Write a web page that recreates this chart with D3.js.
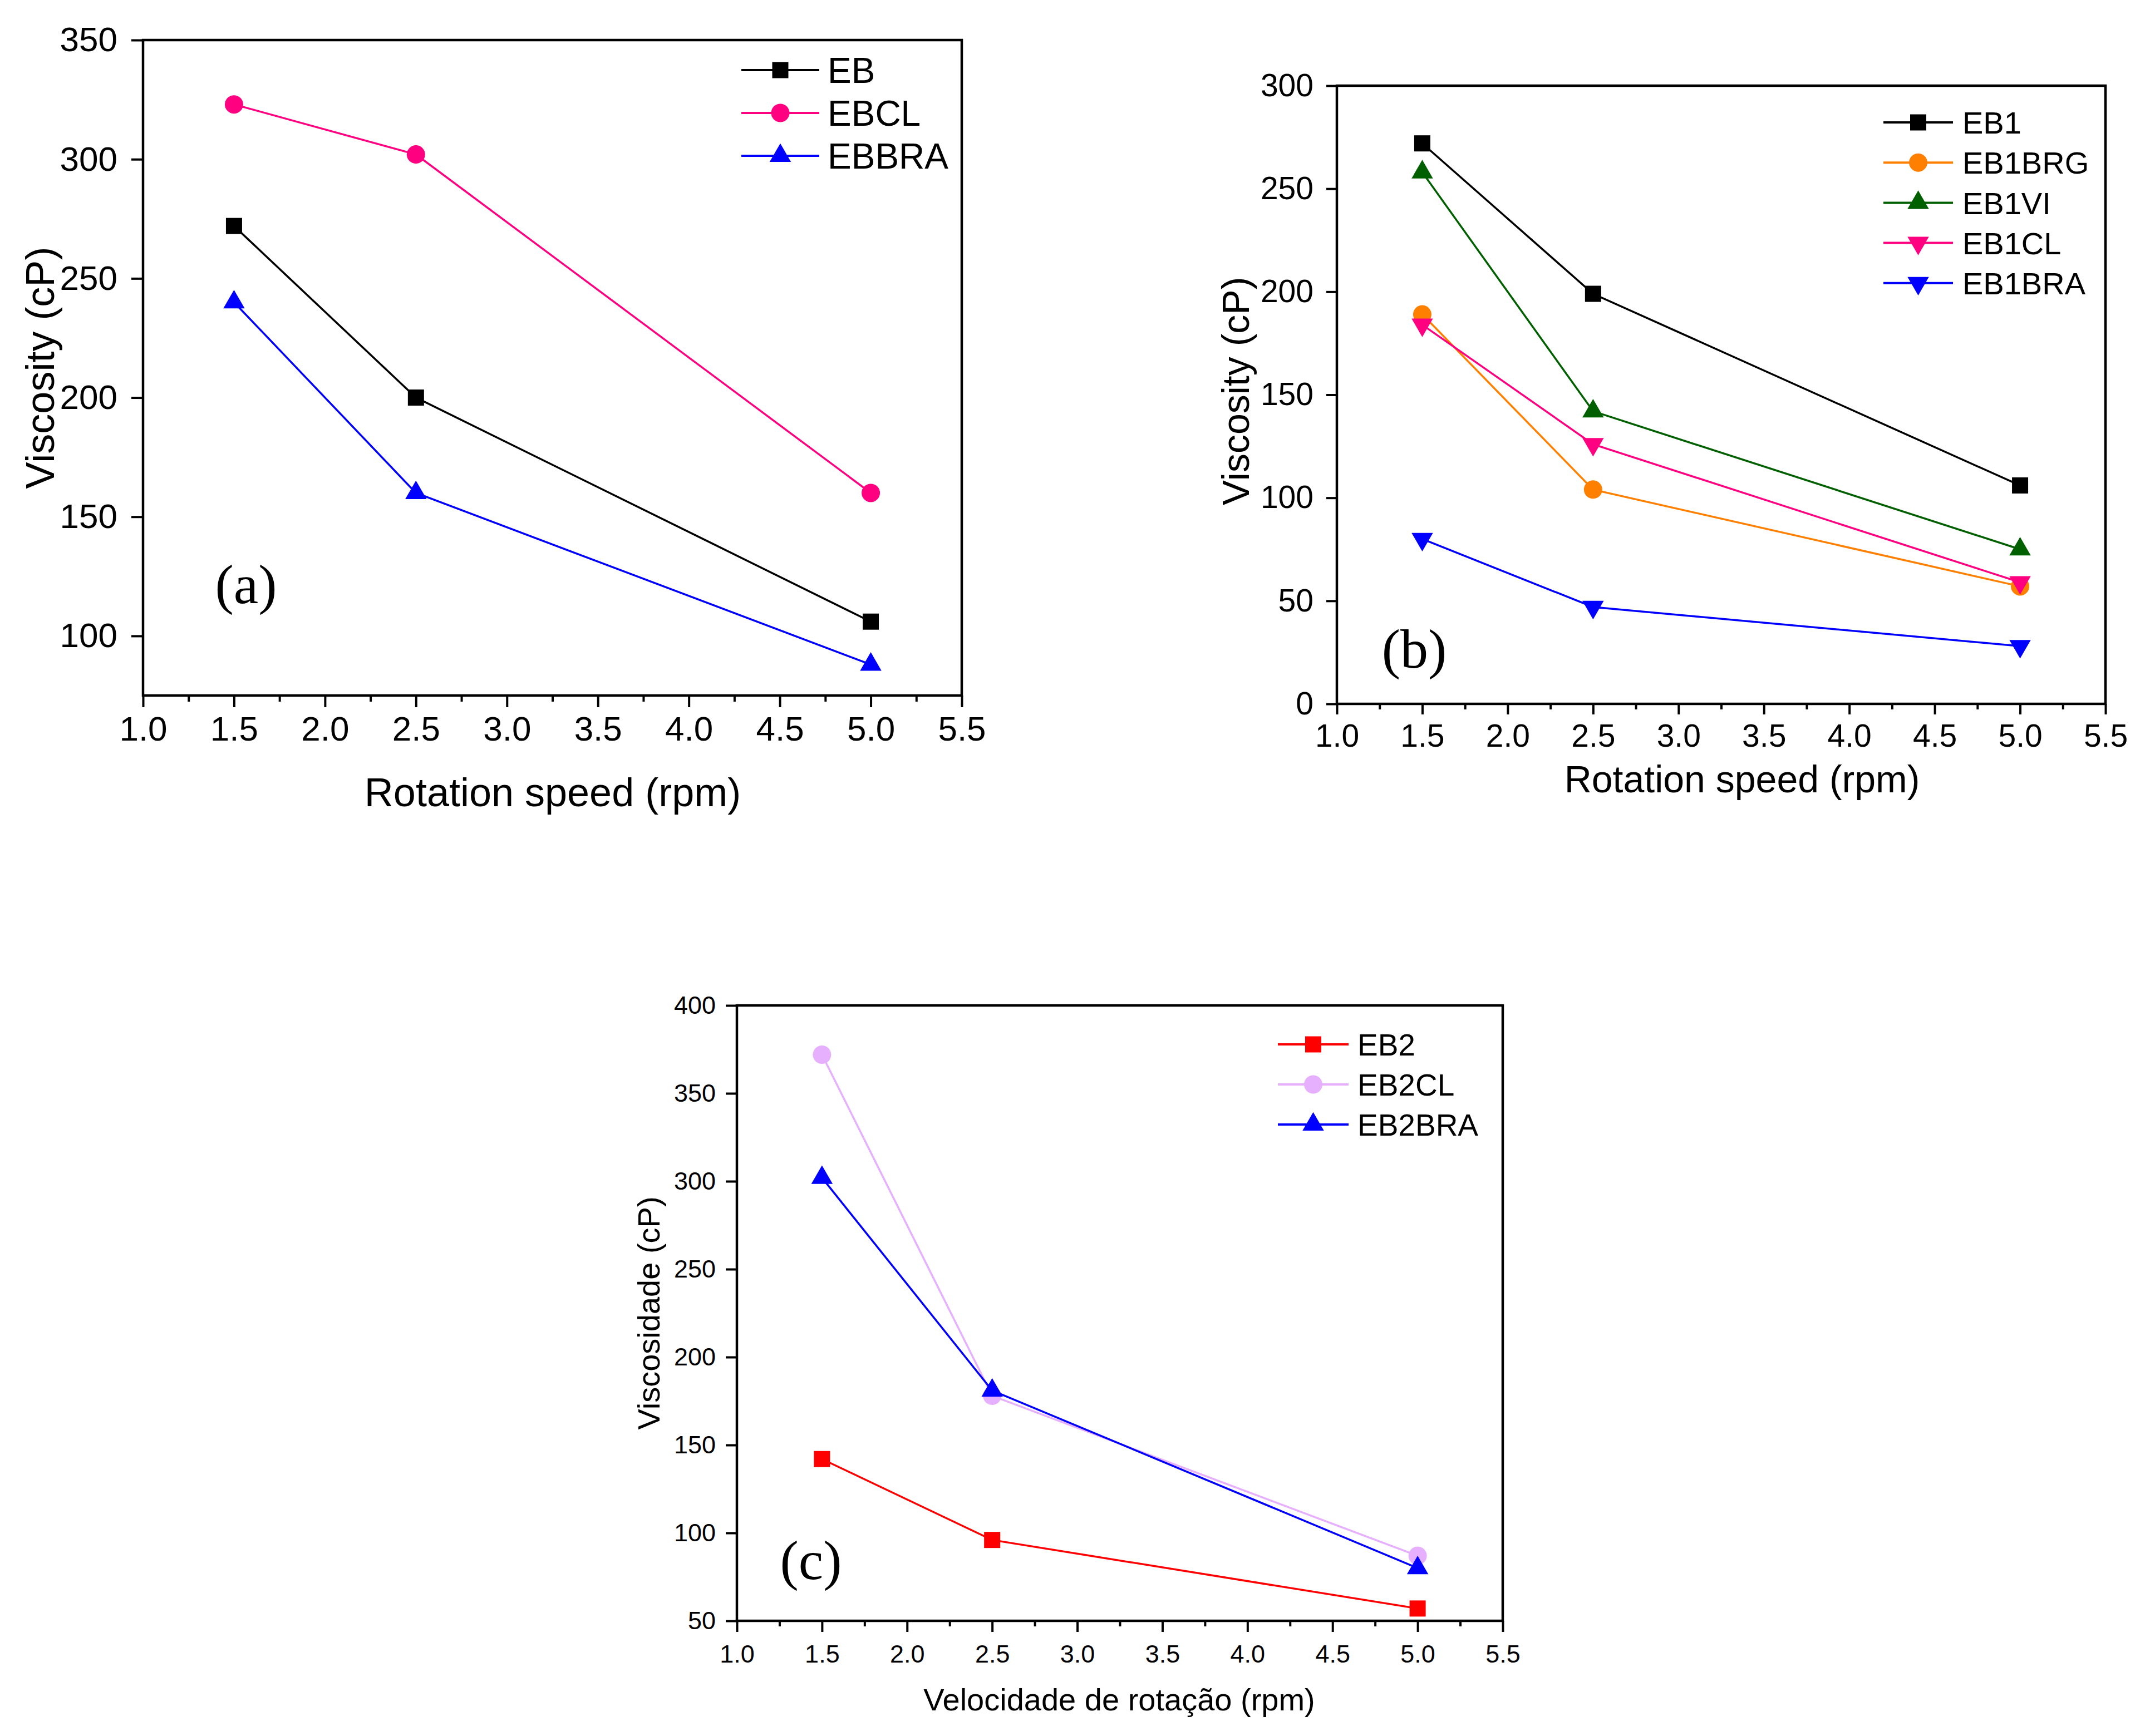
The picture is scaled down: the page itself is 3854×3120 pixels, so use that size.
<!DOCTYPE html>
<html>
<head>
<meta charset="utf-8">
<script src="https://cdn.jsdelivr.net/npm/d3@7"></script>
<style>
  body { margin: 0; background: #fff; }
  svg { display: block; background: #fff; }
  text { font-family: "Liberation Sans", Arial, sans-serif; fill: #000; }
</style>
</head>
<body>
<svg id="fig" width="3854" height="3120"></svg>
<script>
// shared x values and ticks
const speeds = [1.5, 2.5, 5.0];
const xTickValues = [1.0, 1.5, 2.0, 2.5, 3.0, 3.5, 4.0, 4.5, 5.0, 5.5];
const xMinorValues = [1.25, 1.75, 2.25, 2.75, 3.25, 3.75, 4.25, 4.75, 5.25];

// panel (a)
const namesA = ["EB", "EBCL", "EBBRA"];
const ebA = [272, 200, 106];
const ebclA = [323, 302, 160];
const ebbraA = [240, 160, 88];
const yTicksA = [100, 150, 200, 250, 300, 350];

// panel (b)
const namesB = ["EB1", "EB1BRG", "EB1VI", "EB1CL", "EB1BRA"];
const eb1B = [272, 199, 106];
const eb1brgB = [189, 104, 57];
const eb1viB = [258, 142, 75];
const eb1clB = [184, 126, 59];
const eb1braB = [80, 47, 28];
const yTicksB = [0, 50, 100, 150, 200, 250, 300];

// panel (c)
const namesC = ["EB2", "EB2CL", "EB2BRA"];
const eb2C = [142, 96, 57];
const eb2clC = [372, 178, 87];
const eb2braC = [302, 181, 80];
const yTicksC = [50, 100, 150, 200, 250, 300, 350, 400];

const svg = d3.select("#fig");

const markerPath = {
  square: d3.symbol().type(d3.symbolSquare).size(29 * 29)(),
  circle: d3.symbol().type(d3.symbolCircle).size(Math.PI * 16.5 * 16.5)(),
  up: d3.symbol().type(d3.symbolTriangle).size(640)(),
};

function addMarker(sel, shape) {
  return sel
    .append("path")
    .attr("d", shape === "down" ? markerPath.up : markerPath[shape])
    .attr("transform", shape === "down" ? "rotate(180)" : null);
}

function drawPanel(p) {
  const g = svg.append("g");
  const x = d3.scaleLinear().domain([1.0, 5.5]).range([p.left, p.right]);
  const y = d3.scaleLinear().domain(p.yDomain).range([p.bottom, p.top]);

  // minor x ticks
  g.append("g")
    .attr("transform", `translate(0,${p.bottom})`)
    .call(d3.axisBottom(x).tickValues(xMinorValues).tickSize(p.minor).tickFormat(""))
    .call((s) => s.select(".domain").remove());

  const xAxis = g
    .append("g")
    .attr("transform", `translate(0,${p.bottom})`)
    .call(
      d3.axisBottom(x)
        .tickValues(xTickValues)
        .tickSize(p.tick)
        .tickPadding(p.padX)
        .tickFormat(d3.format(".1f"))
    );
  xAxis.select(".domain").remove();

  const yAxis = g
    .append("g")
    .attr("transform", `translate(${p.left},0)`)
    .call(d3.axisLeft(y).tickValues(p.yTicks).tickSize(p.tick).tickPadding(p.padY));
  yAxis.select(".domain").remove();

  g.selectAll(".tick line").attr("stroke", "#000").attr("stroke-width", 4);
  g.selectAll(".tick text")
    .attr("font-size", p.tickFont)
    .attr("font-family", '"Liberation Sans", Arial, sans-serif')
    .attr("fill", "#000");

  // frame
  g.append("rect")
    .attr("x", p.left)
    .attr("y", p.top)
    .attr("width", p.right - p.left)
    .attr("height", p.bottom - p.top)
    .attr("fill", "none")
    .attr("stroke", "#000")
    .attr("stroke-width", 4.5);

  const line = d3
    .line()
    .x((d, i) => x(speeds[i]))
    .y((d) => y(d));

  p.series.forEach((s) => {
    g.append("path")
      .datum(s.values)
      .attr("fill", "none")
      .attr("stroke", s.color)
      .attr("stroke-width", 3.5)
      .attr("d", line);

    g.selectAll(null)
      .data(s.values)
      .join("g")
      .attr("transform", (d, i) => `translate(${x(speeds[i])},${y(d)})`)
      .each(function () {
        addMarker(d3.select(this), s.shape).attr("fill", s.color);
      });
  });

  // legend
  p.series.forEach((s, i) => {
    const ly = p.legend.y0 + i * p.legend.step;
    const row = g.append("g");
    row.append("line")
      .attr("x1", p.legend.x1)
      .attr("x2", p.legend.x2)
      .attr("y1", ly)
      .attr("y2", ly)
      .attr("stroke", s.color)
      .attr("stroke-width", 4);
    const mg = row.append("g")
      .attr("transform", `translate(${(p.legend.x1 + p.legend.x2) / 2},${ly})`);
    addMarker(mg, s.shape).attr("fill", s.color);
    row.append("text")
      .attr("x", p.legend.tx)
      .attr("y", ly)
      .attr("dy", "0.36em")
      .attr("font-size", p.legend.font)
      .text(s.name);
  });

  // axis titles
  g.append("text")
    .attr("x", p.xTitle.x)
    .attr("y", p.xTitle.y)
    .attr("text-anchor", "middle")
    .attr("font-size", p.titleFont)
    .text(p.xTitle.text);

  g.append("text")
    .attr("transform", `translate(${p.yTitle.x},${p.yTitle.y}) rotate(-90)`)
    .attr("text-anchor", "middle")
    .attr("font-size", p.titleFont)
    .text(p.yTitle.text);

  // panel letter
  g.append("text")
    .attr("x", p.tag.x)
    .attr("y", p.tag.y)
    .attr("text-anchor", "middle")
    .attr("font-size", 100)
    .style("font-family", '"Liberation Serif", "Times New Roman", serif')
    .text(p.tag.text);
}

drawPanel({
  left: 257, right: 1728, top: 72, bottom: 1250,
  yDomain: [75, 350], yTicks: yTicksA,
  tick: 21, minor: 11, padX: 16, padY: 25, tickFont: 62, titleFont: 72,
  series: [
    { name: namesA[0], values: ebA, color: "#000000", shape: "square" },
    { name: namesA[1], values: ebclA, color: "#FF0080", shape: "circle" },
    { name: namesA[2], values: ebbraA, color: "#0000FF", shape: "up" },
  ],
  legend: { x1: 1332, x2: 1472, tx: 1487, y0: 126, step: 77, font: 64 },
  xTitle: { x: 993, y: 1449, text: "Rotation speed (rpm)" },
  yTitle: { x: 97, y: 661, text: "Viscosity (cP)" },
  tag: { x: 442, y: 1084, text: "(a)" },
});

drawPanel({
  left: 2402, right: 3783, top: 154, bottom: 1265,
  yDomain: [0, 300], yTicks: yTicksB,
  tick: 19, minor: 10, padX: 18, padY: 23, tickFont: 57, titleFont: 68,
  series: [
    { name: namesB[0], values: eb1B, color: "#000000", shape: "square" },
    { name: namesB[1], values: eb1brgB, color: "#FF8000", shape: "circle" },
    { name: namesB[2], values: eb1viB, color: "#006000", shape: "up" },
    { name: namesB[3], values: eb1clB, color: "#FF0080", shape: "down" },
    { name: namesB[4], values: eb1braB, color: "#0000FF", shape: "down" },
  ],
  legend: { x1: 3384, x2: 3509, tx: 3526, y0: 220, step: 72.2, font: 56 },
  xTitle: { x: 3130, y: 1424, text: "Rotation speed (rpm)" },
  yTitle: { x: 2244, y: 703, text: "Viscosity (cP)" },
  tag: { x: 2541, y: 1200, text: "(b)" },
});

drawPanel({
  left: 1324, right: 2700, top: 1807, bottom: 2913,
  yDomain: [50, 400], yTicks: yTicksC,
  tick: 20, minor: 10, padX: 23, padY: 18, tickFont: 45, titleFont: 56,
  series: [
    { name: namesC[0], values: eb2C, color: "#FF0000", shape: "square" },
    { name: namesC[1], values: eb2clC, color: "#E6B0FF", shape: "circle" },
    { name: namesC[2], values: eb2braC, color: "#0000FF", shape: "up" },
  ],
  legend: { x1: 2296, x2: 2423, tx: 2439, y0: 1877, step: 72, font: 55 },
  xTitle: { x: 2011, y: 3074, text: "Velocidade de rotação (rpm)" },
  yTitle: { x: 1185, y: 2360, text: "Viscosidade (cP)" },
  tag: { x: 1457, y: 2838, text: "(c)" },
});
</script>
</body>
</html>
